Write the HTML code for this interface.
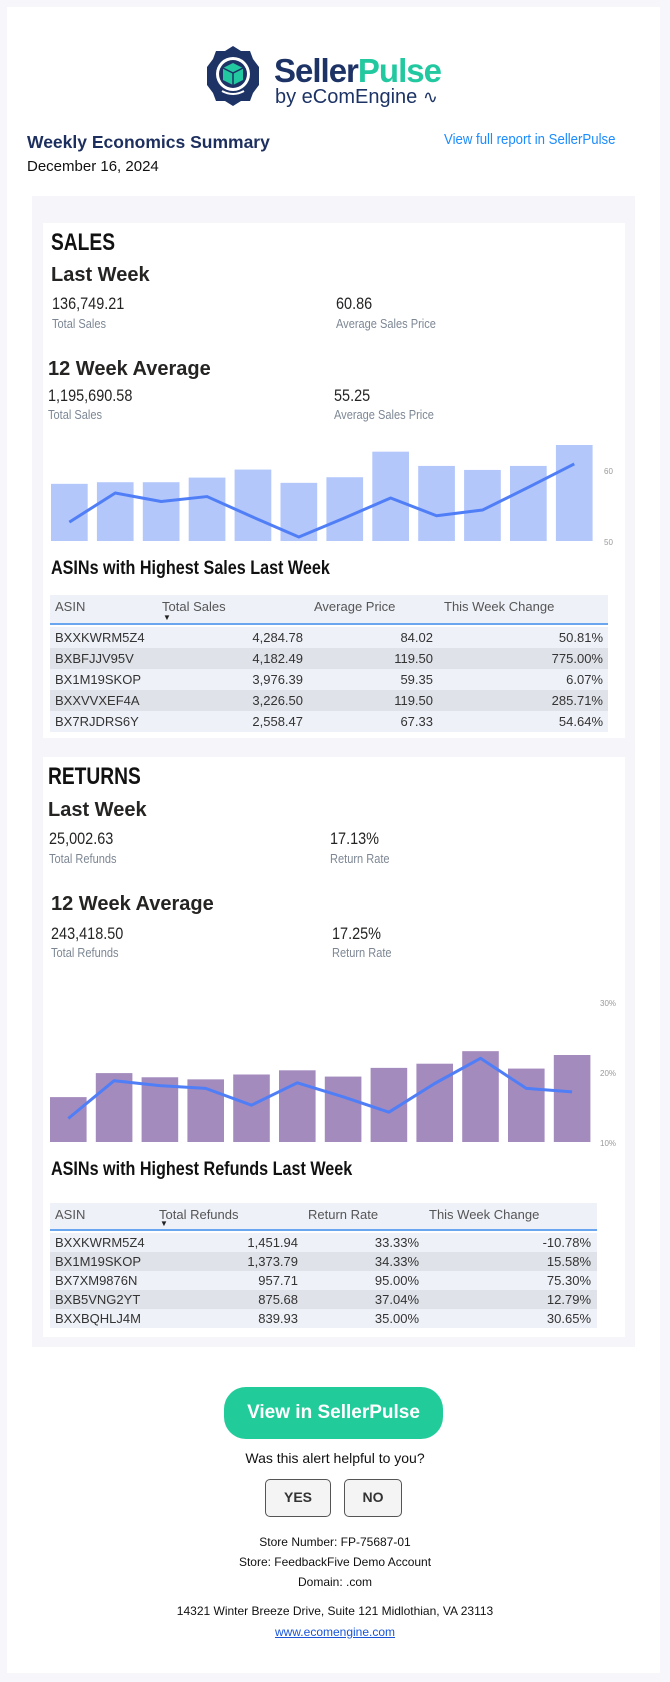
<!DOCTYPE html>
<html><head><meta charset="utf-8">
<style>
*{margin:0;padding:0;box-sizing:border-box}
body{width:670px;height:1682px;background:#f6f6fb;font-family:"Liberation Sans",sans-serif;position:relative;overflow:hidden;color:#222}
.a{position:absolute;white-space:nowrap}
.cond{display:inline-block;transform-origin:0 0}
.lbl{color:#7d8794;font-size:13px}
.val{color:#252423;font-size:17px}
.h2{font-weight:bold;font-size:20px;color:#252423}
.tbl{position:absolute;font-size:13px;color:#333}
.tbl .row{position:absolute;left:0;right:0}
.tbl span{position:absolute}
</style></head><body>
<div class="a" style="left:7px;top:7px;width:653px;height:1666px;background:#fff"></div>

<svg class="a" style="left:206px;top:45px" width="54" height="62" viewBox="0 0 54 62">
<polygon points="27,1 35,6 44,6 47,14 53,22 53,40 47,48 44,56 35,56 27,61 19,56 10,56 7,48 1,40 1,22 7,14 10,6 19,6" fill="#1d3366"/>
<circle cx="27" cy="29" r="17" fill="#fff"/><circle cx="27" cy="29" r="14" fill="#1d3366"/>
<polygon points="27,18 37,23 37,35 27,40 17,35 17,23" fill="#22c9a0"/>
<polyline points="17,23 27,28 37,23" fill="none" stroke="#1d3366" stroke-width="1.5"/>
<line x1="27" y1="28" x2="27" y2="40" stroke="#1d3366" stroke-width="1.5"/>
<path d="M16,46 Q27,52 38,46" stroke="#fff" stroke-width="2" fill="none"/>
</svg>
<div class="a" style="left:274px;top:52px;font-size:33px;font-weight:bold;letter-spacing:-1px;color:#1d3366">Seller<span style="color:#22c9a0">Pulse</span></div>
<div class="a" style="left:275px;top:86px;font-size:20px;color:#1d3366">by eComEngine <span style="font-size:18px">∿</span></div>

<div class="a" style="left:27px;top:132px;font-size:17.5px;font-weight:bold;color:#1d2f5e">Weekly Economics Summary</div>
<div class="a" style="left:444px;top:131px;font-size:15px;color:#1a8cff"><span class="cond" style="transform:scaleX(0.88)">View full report in SellerPulse</span></div>
<div class="a" style="left:27px;top:158px;font-size:15px;color:#111">December 16, 2024</div>

<div class="a" style="left:32px;top:196px;width:603px;height:1151px;background:#f5f5fa"></div>
<div class="a" style="left:43px;top:223px;width:582px;height:515px;background:#fff"></div>
<div class="a" style="left:43px;top:757px;width:582px;height:580px;background:#fff"></div>

<!-- SALES -->
<div class="a" style="left:51px;top:229px;font-size:24px;font-weight:bold;color:#111"><span class="cond" style="transform:scaleX(0.8)">SALES</span></div>
<div class="a h2" style="left:51px;top:264px">Last Week</div>
<div class="a val" style="left:52px;top:294px"><span class="cond" style="transform:scaleX(0.85)">136,749.21</span></div>
<div class="a lbl" style="left:52px;top:316px"><span class="cond" style="transform:scaleX(0.85)">Total Sales</span></div>
<div class="a val" style="left:336px;top:294px"><span class="cond" style="transform:scaleX(0.85)">60.86</span></div>
<div class="a lbl" style="left:336px;top:316px"><span class="cond" style="transform:scaleX(0.85)">Average Sales Price</span></div>
<div class="a h2" style="left:48px;top:358px">12 Week Average</div>
<div class="a val" style="left:48px;top:386px"><span class="cond" style="transform:scaleX(0.85)">1,195,690.58</span></div>
<div class="a lbl" style="left:48px;top:407px"><span class="cond" style="transform:scaleX(0.85)">Total Sales</span></div>
<div class="a val" style="left:334px;top:386px"><span class="cond" style="transform:scaleX(0.85)">55.25</span></div>
<div class="a lbl" style="left:334px;top:407px"><span class="cond" style="transform:scaleX(0.85)">Average Sales Price</span></div>

<svg class="a" id="salesChart" style="left:0;top:0" width="670" height="760"></svg>

<div class="a" style="left:51px;top:558px;font-size:19px;font-weight:bold;color:#111"><span class="cond" style="transform:scaleX(0.85)">ASINs with Highest Sales Last Week</span></div>
<div class="tbl" id="salesTable" style="left:50px;top:595px;width:558px;height:136px"></div>

<!-- RETURNS -->
<div class="a" style="left:48px;top:763px;font-size:24px;font-weight:bold;color:#111"><span class="cond" style="transform:scaleX(0.8)">RETURNS</span></div>
<div class="a h2" style="left:48px;top:799px">Last Week</div>
<div class="a val" style="left:49px;top:829px"><span class="cond" style="transform:scaleX(0.85)">25,002.63</span></div>
<div class="a lbl" style="left:49px;top:851px"><span class="cond" style="transform:scaleX(0.85)">Total Refunds</span></div>
<div class="a val" style="left:330px;top:829px"><span class="cond" style="transform:scaleX(0.85)">17.13%</span></div>
<div class="a lbl" style="left:330px;top:851px"><span class="cond" style="transform:scaleX(0.85)">Return Rate</span></div>
<div class="a h2" style="left:51px;top:893px">12 Week Average</div>
<div class="a val" style="left:51px;top:924px"><span class="cond" style="transform:scaleX(0.85)">243,418.50</span></div>
<div class="a lbl" style="left:51px;top:945px"><span class="cond" style="transform:scaleX(0.85)">Total Refunds</span></div>
<div class="a val" style="left:332px;top:924px"><span class="cond" style="transform:scaleX(0.85)">17.25%</span></div>
<div class="a lbl" style="left:332px;top:945px"><span class="cond" style="transform:scaleX(0.85)">Return Rate</span></div>

<svg class="a" id="refundChart" style="left:0;top:980px" width="670" height="180"></svg>

<div class="a" style="left:51px;top:1159px;font-size:19px;font-weight:bold;color:#111"><span class="cond" style="transform:scaleX(0.85)">ASINs with Highest Refunds Last Week</span></div>
<div class="tbl" id="refundTable" style="left:50px;top:1203px;width:547px;height:124px"></div>

<!-- FOOTER -->
<div class="a" style="left:224px;top:1387px;width:219px;height:52px;border-radius:22px;background:#22cc9a;color:#fff;font-weight:bold;font-size:19px;text-align:center;line-height:52px">View in SellerPulse</div>
<div class="a" style="left:0;width:670px;text-align:center;top:1450px;font-size:14px;color:#111">Was this alert helpful to you?</div>
<div class="a" style="left:265px;top:1479px;width:66px;height:38px;border:1.5px solid #555;border-radius:5px;background:#f4f4f4;text-align:center;line-height:35px;font-weight:bold;font-size:14px;color:#333">YES</div>
<div class="a" style="left:344px;top:1479px;width:58px;height:38px;border:1.5px solid #555;border-radius:5px;background:#f4f4f4;text-align:center;line-height:35px;font-weight:bold;font-size:14px;color:#333">NO</div>
<div class="a" style="left:0;width:670px;text-align:center;top:1535px;font-size:12px;color:#111">Store Number: FP-75687-01</div>
<div class="a" style="left:0;width:670px;text-align:center;top:1555px;font-size:12px;color:#111">Store: FeedbackFive Demo Account</div>
<div class="a" style="left:0;width:670px;text-align:center;top:1575px;font-size:12px;color:#111">Domain: .com</div>
<div class="a" style="left:0;width:670px;text-align:center;top:1604px;font-size:12px;color:#111">14321 Winter Breeze Drive, Suite 121 Midlothian, VA 23113</div>
<div class="a" style="left:0;width:670px;text-align:center;top:1625px;font-size:12px;color:#1a55d8;text-decoration:underline">www.ecomengine.com</div>

<script>
// Sales chart data
const weeks = ["W1","W2","W3","W4","W5","W6","W7","W8","W9","W10","W11","W12"];
const salesTotals = [81.4,83.7,83.7,90.3,101.7,82.8,90.8,127.2,106.9,101.2,106.9,136.7];
const salesAvgPrice = [52.8,56.9,55.7,56.4,53.5,50.7,53.4,56.2,53.7,54.5,57.7,61.0];
const salesPriceTicks = ["60","50"];
const salesPriceTickValues = [60,50];
// Refund chart data
const refundTotals = [12.9,19.8,18.6,18.0,19.4,20.6,18.8,21.3,22.5,26.1,21.1,25.0];
const refundRates = [13.5,18.9,18.2,17.8,15.4,18.6,16.6,14.4,18.5,22.1,17.8,17.3];
const refundRateTicks = ["30%","20%","10%"];
const refundRateTickValues = [30,20,10];
// Tables
const salesHeaders = ["ASIN","Total Sales","Average Price","This Week Change"];
const salesAsins = ["BXXKWRM5Z4","BXBFJJV95V","BX1M19SKOP","BXXVVXEF4A","BX7RJDRS6Y"];
const salesTotalCol = ["4,284.78","4,182.49","3,976.39","3,226.50","2,558.47"];
const salesPriceCol = ["84.02","119.50","59.35","119.50","67.33"];
const salesChangeCol = ["50.81%","775.00%","6.07%","285.71%","54.64%"];
const refundHeaders = ["ASIN","Total Refunds","Return Rate","This Week Change"];
const refundAsins = ["BXXKWRM5Z4","BX1M19SKOP","BX7XM9876N","BXB5VNG2YT","BXXBQHLJ4M"];
const refundTotalCol = ["1,451.94","1,373.79","957.71","875.68","839.93"];
const refundRateCol = ["33.33%","34.33%","95.00%","37.04%","35.00%"];
const refundChangeCol = ["-10.78%","15.58%","75.30%","12.79%","30.65%"];

const NS="http://www.w3.org/2000/svg";
function mk(svg,tag,attrs){const e=document.createElementNS(NS,tag);for(const k in attrs)e.setAttribute(k,attrs[k]);svg.appendChild(e);return e;}

function drawChart(svg,cfg){
  const xBand=i=>cfg.x0+i*cfg.pitch;
  const yBar=v=>cfg.base-(v/cfg.barMax)*cfg.barH;
  const yLine=v=>cfg.lineY0+(v-cfg.lineV0)*(cfg.lineY1-cfg.lineY0)/(cfg.lineV1-cfg.lineV0);
  cfg.bars.forEach((v,i)=>{
    const r=mk(svg,'rect',{x:xBand(i),y:yBar(v),width:cfg.bw,height:cfg.base-yBar(v),fill:cfg.color});
    
    
  });
  const pts=cfg.line.map((v,i)=>(xBand(i)+cfg.bw/2)+','+yLine(v)).join(' ');
  const pl=mk(svg,'polyline',{points:pts,fill:'none',stroke:'#4f7ef7','stroke-width':3,'stroke-linejoin':'round'});
  
  
  cfg.ticks.forEach((t,i)=>{
    const tx=mk(svg,'text',{x:cfg.tickX,y:yLine(cfg.tickVals[i])+3,'font-size':8,fill:'#999','font-family':'Liberation Sans, sans-serif'});
    tx.textContent=t;
    
    
  });
}
drawChart(document.getElementById('salesChart'),{bars:salesTotals,line:salesAvgPrice,x0:51,pitch:45.9,bw:36.7,base:541,barMax:136.7,barH:96,color:'#b3c7fb',
  lineV0:50,lineY0:542,lineV1:60,lineY1:471,ticks:salesPriceTicks,tickVals:salesPriceTickValues,tickX:604});
drawChart(document.getElementById('refundChart'),{bars:refundTotals,line:refundRates,x0:50,pitch:45.8,bw:36.6,base:162,barMax:25,barH:87,color:'#a48bbd',
  lineV0:10,lineY0:163,lineV1:30,lineY1:23,ticks:refundRateTicks,tickVals:refundRateTickValues,tickX:600});

function drawTable(el,cfg){
  const hdr=document.createElement('div');
  hdr.className='row';
  
  
  hdr.style.cssText='top:0;height:'+cfg.hh+'px;background:#eef1f8;border-bottom:2px solid #6aa5f0;color:#555';
  cfg.headers.forEach((h,i)=>{const s=document.createElement('span');s.textContent=h;s.style.cssText='left:'+cfg.hx[i]+'px;top:4px';
    
    
    hdr.appendChild(s);});
  const arrow=document.createElement('span');arrow.textContent='▼';arrow.style.cssText='left:'+(cfg.hx[1]+1)+'px;top:'+(cfg.hh-11)+'px;font-size:8px;line-height:8px;color:#222';
  
  
  hdr.appendChild(arrow);
  el.appendChild(hdr);
  cfg.cols[0].forEach((_,r)=>{
    const row=document.createElement('div');row.className='row';
    
    
    row.style.cssText='top:'+(cfg.hh+2+r*cfg.rh)+'px;height:'+cfg.rh+'px;line-height:'+cfg.rh+'px;background:'+(r%2?'#dfe2e8':'#eef1f7');
    cfg.cols.forEach((c,i)=>{const s=document.createElement('span');s.textContent=c[r];
      s.style.cssText=i==0?'left:5px':'right:'+cfg.rx[i]+'px';row.appendChild(s);});
    el.appendChild(row);
  });
}
drawTable(document.getElementById('salesTable'),{headers:salesHeaders,cols:[salesAsins,salesTotalCol,salesPriceCol,salesChangeCol],
  hx:[5,112,264,394],rx:[0,305,175,5],hh:30,rh:21});
drawTable(document.getElementById('refundTable'),{headers:refundHeaders,cols:[refundAsins,refundTotalCol,refundRateCol,refundChangeCol],
  hx:[5,109,258,379],rx:[0,299,178,6],hh:28,rh:19});
</script>
</body></html>
